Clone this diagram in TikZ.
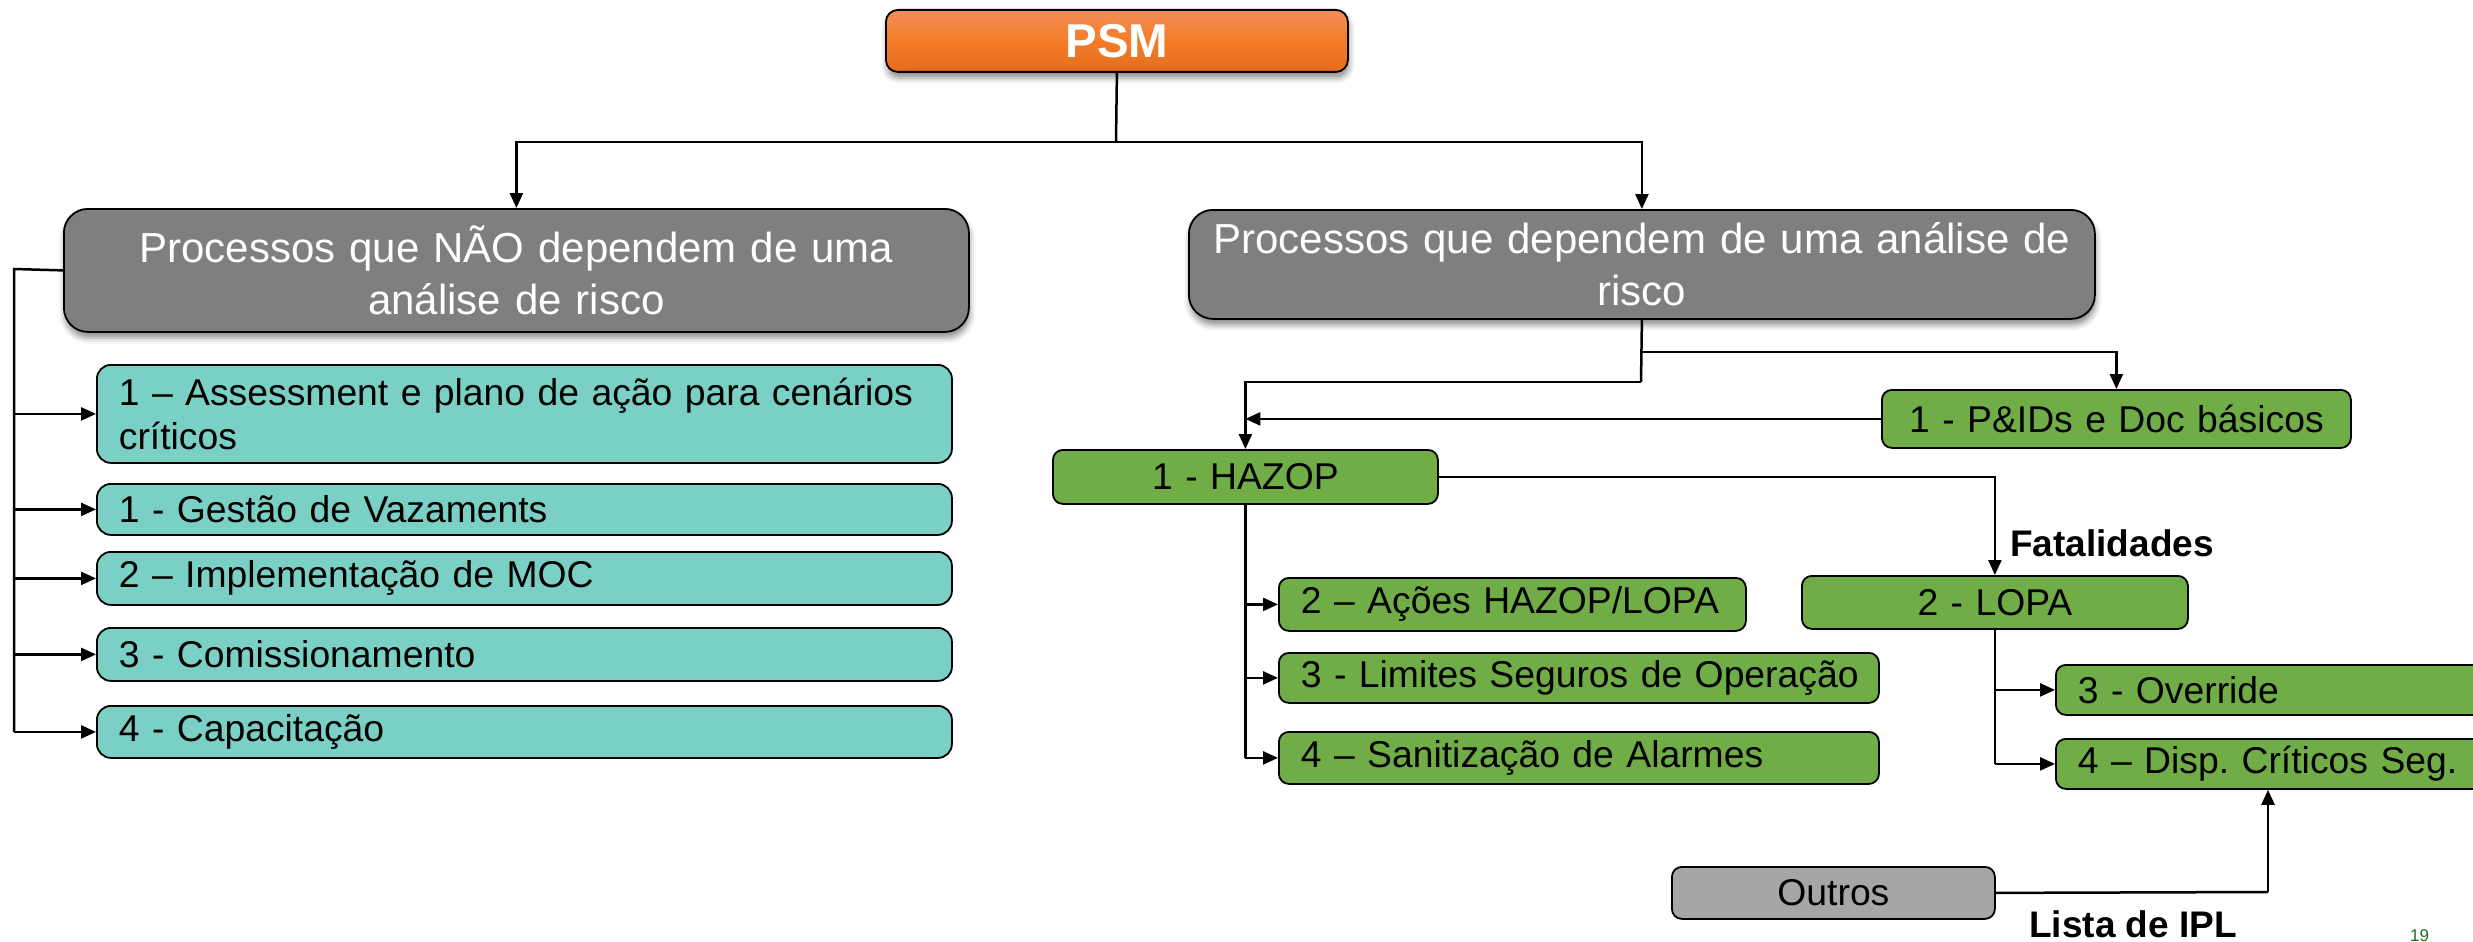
\documentclass[tikz,border=0pt]{standalone}
\usepackage{fontspec}
\setmainfont{Liberation Sans}
\usetikzlibrary{arrows.meta,shadows.blur}
\frenchspacing
\definecolor{psmTop}{RGB}{242,142,86}
\definecolor{psmMid}{RGB}{244,124,40}
\definecolor{psmBot}{RGB}{230,108,28}
\definecolor{grayBox}{RGB}{127,127,127}
\definecolor{tealBox}{RGB}{123,208,197}
\definecolor{greenBox}{RGB}{112,173,71}
\definecolor{otherBox}{RGB}{166,166,166}
\definecolor{pageNum}{RGB}{30,110,30}

\begin{document}
\begin{tikzpicture}[x=1pt,y=-1pt,
  base/.style={draw=black, line width=1.8pt, anchor=north west, inner ysep=0pt},
  softshadow/.style={blur shadow={shadow xshift=1pt, shadow yshift=-6pt, shadow blur radius=6pt, shadow opacity=45}},
  head/.style={base, rounded corners=12pt, top color=psmTop, bottom color=psmBot, middle color=psmMid,
    text=white, align=center, font=\bfseries\fontsize{47.5}{52}\selectfont, softshadow},
  graybox/.style={base, rounded corners=24pt, fill=grayBox, text=white, align=center,
    inner xsep=10pt, font=\fontsize{42}{52}\selectfont, softshadow},
  itembox/.style={base, align=left, inner xsep=22pt, font=\fontsize{37.3}{44.5}\selectfont},
  tealbox/.style={itembox, rounded corners=14pt, fill=tealBox},
  greenbox/.style={itembox, rounded corners=10pt, fill=greenBox},
  greenc/.style={greenbox, align=center},
  otherbox/.style={itembox, rounded corners=10pt, fill=otherBox, align=center},
  lbl/.style={inner sep=0pt, anchor=base west, font=\bfseries\fontsize{37}{44}\selectfont},
  conn/.style={line width=2.5pt},
  arr/.style={conn, -{Triangle[length=15pt,width=13pt]}}
]
\useasboundingbox (0,0) rectangle (2473,942);

% top of the tree
\node[head, minimum width=462pt, minimum height=62pt, text width=420pt] (psm) at (885,9) {PSM};

% the two main branches
\node[graybox, minimum width=905pt, minimum height=123pt, text width=885pt] (gL) at (63,208)
  {\mbox{Processos que NÃO dependem de uma}\\\mbox{análise de risco}};
\node[graybox, minimum width=906pt, minimum height=109pt, text width=886pt] (gR) at (1188,209)
  {\mbox{Processos que dependem de uma análise de}\\\mbox{risco}};

% processes without risk analysis
\node[tealbox, minimum width=855pt, minimum height=98pt, text width=811pt] (t1) at (96,364)
  {\mbox{1 – Assessment e plano de ação para cenários}\\\mbox{críticos}};
\node[tealbox, minimum width=855pt, minimum height=51pt, text width=811pt] (t2) at (96,483)
  {\mbox{1 - Gestão de Vazaments}};
\node[tealbox, minimum width=855pt, minimum height=53pt, text width=811pt] (t3) at (96,551)
  {\mbox{2 – Implementação de MOC}};
\node[tealbox, minimum width=855pt, minimum height=53pt, text width=811pt] (t4) at (96,627)
  {\mbox{3 - Comissionamento}};
\node[tealbox, minimum width=855pt, minimum height=52pt, text width=811pt] (t5) at (96,705)
  {\mbox{4 - Capacitação}};

% processes depending on risk analysis
\node[greenc, minimum width=469pt, minimum height=58pt, text width=425pt] (pid) at (1881,389)
  {\mbox{1 - P\&IDs e Doc básicos}};
\node[greenc, minimum width=385pt, minimum height=54pt, text width=341pt] (hazop) at (1052,449)
  {\mbox{1 - HAZOP}};
\node[greenbox, minimum width=467pt, minimum height=53pt, text width=423pt] (acoes) at (1278,577)
  {\mbox{2 – Ações HAZOP/LOPA}};
\node[greenbox, minimum width=600pt, minimum height=50pt, text width=556pt] (limites) at (1278,652)
  {\mbox{3 - Limites Seguros de Operação}};
\node[greenbox, minimum width=600pt, minimum height=52pt, text width=556pt] (sanit) at (1278,731)
  {\mbox{4 – Sanitização de Alarmes}};
\node[greenc, minimum width=386pt, minimum height=53pt, text width=342pt] (lopa) at (1801,575)
  {\mbox{2 - LOPA}};
\node[greenbox, minimum width=465pt, minimum height=50pt, text width=421pt] (override) at (2055,664)
  {\mbox{3 - Override}};
\node[greenbox, minimum width=465pt, minimum height=50pt, text width=421pt] (disp) at (2055,738)
  {\mbox{4 – Disp. Críticos Seg.}};
\node[otherbox, minimum width=323pt, minimum height=52pt, text width=279pt] (outros) at (1671,866)
  {\mbox{Outros}};

% connectors from the top
\coordinate (j0) at (1116,142);
\draw[conn] (psm.south) -- (j0);
\draw[arr] (j0) -| (gL.north);
\draw[arr] (j0) -| (gR.north);

% left bus
\coordinate (lb) at (14,269);
\draw[conn] (gL.west) -- (lb) -- (lb |- t5.west);
\foreach \t in {t1,t2,t3,t4,t5}
  \draw[arr] (lb |- \t.west) -- (\t.west);

% right branch
\coordinate (r1) at (1641,352);
\coordinate (r2) at (1641,382);
\draw[conn] (gR.south) -- (r2);
\draw[arr] (r1) -| (pid.north);
\draw[arr] (r2) -| (hazop.north);
\draw[arr] (pid.west) -- (pid.west -| hazop.north);

\draw[arr] (hazop.east) -| (lopa.north);
\node[lbl] (fat) at (2010,556) {Fatalidades};

\draw[conn] (hazop.south) -- (hazop.south |- sanit.west);
\foreach \t in {acoes,limites,sanit}
  \draw[arr] (hazop.south |- \t.west) -- (\t.west);

\draw[conn] (lopa.south) -- (lopa.south |- disp.west);
\foreach \t in {override,disp}
  \draw[arr] (lopa.south |- \t.west) -- (\t.west);

\coordinate (ipl) at (2268,892);
\draw[conn] (outros.east) -- (ipl);
\draw[arr] (ipl) -- (ipl |- disp.south);
\node[lbl] (ipltxt) at (2029,937) {Lista de IPL};

% page number
\node[inner sep=0pt, anchor=base west, text=pageNum, font=\fontsize{17}{20}\selectfont] (pg) at (2410,941) {19};
\end{tikzpicture}
\end{document}
